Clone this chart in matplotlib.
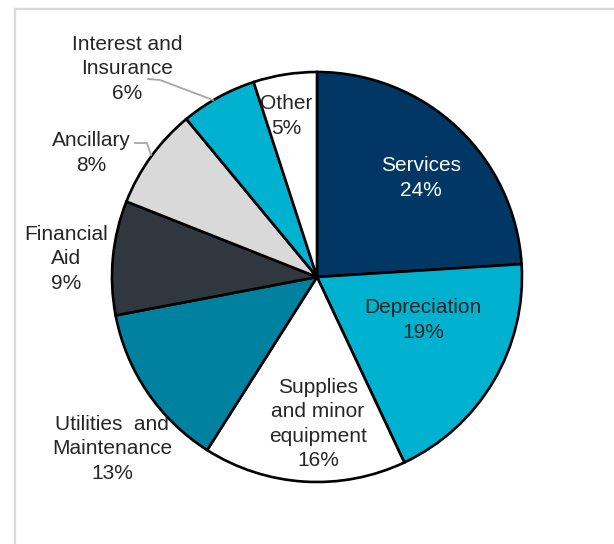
import matplotlib
matplotlib.use("Agg")
import matplotlib.pyplot as plt
from matplotlib.lines import Line2D
import numpy as np

# Expense categories, in clockwise order from 12 o'clock
categories = ["Services", "Depreciation", "Supplies\nand minor\nequipment",
              "Utilities  and\nMaintenance", "Financial\nAid", "Ancillary",
              "Interest and\nInsurance", "Other"]
shares = [24, 19, 16, 13, 9, 8, 6, 5]

colors = ["#003764", "#00B2CF", "#FFFFFF", "#0081A0", "#31373F",
          "#D9D9D9", "#00B2CF", "#FFFFFF"]
text_colors = ["white", "#262626", "#262626", "#262626", "#262626",
               "#262626", "#262626", "#262626"]

W, H = 614, 544
CX, CY, R = 317, 277, 205          # pie centre and radius in pixels

# label centres in pixels (x from left, y from top)
label_px = [(421, 178), (423, 320), (318, 424), (112, 449), (66, 259),
            (91, 153), (127, 69), (286, 116)]

fig = plt.figure(figsize=(W / 100, H / 100), dpi=100)
fig.patch.set_facecolor("white")

# light frame along the left and top
frame_kw = dict(color="#D9D9D9", lw=1.6, transform=fig.transFigure)
fig.add_artist(Line2D([15 / W, 15 / W], [0, 1 - 9 / H], **frame_kw))
fig.add_artist(Line2D([15 / W, 1], [1 - 9 / H, 1 - 9 / H], **frame_kw))

ax = fig.add_axes([(CX - R) / W, (H - CY - R) / H, 2 * R / W, 2 * R / H])
ax.pie(shares, colors=colors, startangle=90, counterclock=False, radius=1,
       wedgeprops=dict(edgecolor="black", linewidth=1.9, antialiased=True))
ax.set_xlim(-1, 1)
ax.set_ylim(-1, 1)
ax.set_aspect("equal")
ax.axis("off")


def to_data(px, py):
    return (px - CX) / R, (CY - py) / R


for name, val, (px, py), tc in zip(categories, shares, label_px, text_colors):
    x, y = to_data(px, py)
    ax.text(x, y, f"{name}\n{val}%", ha="center", va="center", color=tc,
            fontsize=15, family="Liberation Sans", linespacing=1.36,
            clip_on=False, zorder=5)

# leader lines for the two small outer labels
leaders = [[(148, 79), (160, 80), (213, 100)],
           [(135, 143), (147, 143), (151, 155)]]
for pts in leaders:
    xs, ys = zip(*[to_data(*p) for p in pts])
    ax.plot(xs, ys, color="#A6A6A6", lw=1.3, clip_on=False, zorder=4)

fig.savefig("out.png", dpi=100, facecolor="white")
